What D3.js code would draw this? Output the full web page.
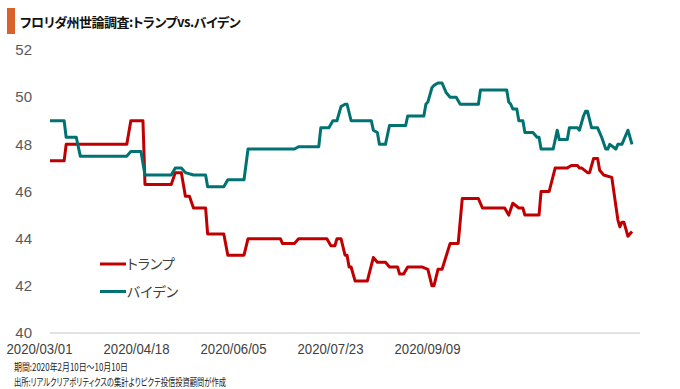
<!DOCTYPE html>
<html>
<head>
<meta charset="utf-8">
<script src="https://cdn.jsdelivr.net/npm/d3@7/dist/d3.min.js"></script>
<style>
  body { margin: 0; background: #fff; }
  svg { display: block; font-family: "Liberation Sans", Arial, sans-serif; }
  .jp { font-family: "Noto Sans CJK JP", sans-serif; font-feature-settings: "palt"; }
  .tick text { font-family: "Liberation Sans", Arial, sans-serif; }
</style>
</head>
<body>
<script>
// chart data (x = poll update index, 0 .. 288)
const xLabels = ['2020/03/01', '2020/04/18', '2020/06/05', '2020/07/23', '2020/09/09'];
const xLabelIdx = [0, 48, 96, 144, 192];
const yTicks = [40, 42, 44, 46, 48, 50, 52];
const seriesNames = ['トランプ', 'バイデン'];

const trump = [
  [0, 47.3], [7, 47.3], [8, 48.0], [38, 48.0], [40, 49.0], [46, 49.0], [47, 46.3],
  [60, 46.3], [62, 46.8], [65, 46.8], [67, 45.8], [69, 45.8], [71, 45.3], [77, 45.3],
  [78, 44.2], [86, 44.2], [88, 43.3], [96, 43.3], [98, 44.0], [114, 44.0], [115, 43.8],
  [121, 43.8], [123, 44.0], [137, 44.0], [139, 43.7], [141, 43.7], [142, 44.0], [144, 44.0],
  [146, 43.3], [147, 43.3], [148, 42.8], [149, 42.8], [151, 42.2], [157, 42.2], [160, 43.2],
  [162, 43.0], [166, 43.0], [168, 42.8], [172, 42.8], [173, 42.5], [175, 42.5], [177, 42.8],
  [184, 42.8], [187, 42.7], [189, 42.0], [190, 42.0], [192, 42.7], [194, 42.7], [198, 43.8],
  [202, 43.8], [204, 45.7], [212, 45.7], [214, 45.3], [225, 45.3], [227, 45.0], [229, 45.5],
  [232, 45.3], [234, 45.3], [235, 45.0], [242, 45.0], [243, 46.0], [247, 46.0], [250, 47.0],
  [256, 47.0], [258, 47.1], [261, 47.1], [262, 47.0], [263, 47.0], [266, 46.8], [267, 46.8],
  [269, 47.4], [271, 47.4], [272, 46.9], [274, 46.7], [278, 46.6], [281, 44.8], [282, 44.5],
  [283, 44.7], [284, 44.7], [286, 44.1], [288, 44.3],
];

const biden = [
  [0, 49.0], [7, 49.0], [8, 48.3], [13, 48.3], [15, 47.5], [38, 47.5], [40, 47.7], [45, 47.7],
  [47, 46.7], [60, 46.7], [62, 47.0], [65, 47.0], [67, 46.8], [71, 46.7], [77, 46.7], [78, 46.2],
  [86, 46.2], [88, 46.5], [96, 46.5], [98, 47.8], [121, 47.8], [123, 47.9], [133, 47.9],
  [134, 48.7], [138, 48.7], [140, 49.0], [142, 49.0], [144, 49.6], [146, 49.7], [147, 49.7],
  [149, 49.0], [159, 49.0], [160, 48.6], [162, 48.5], [163, 48.0], [166, 48.0], [168, 48.8],
  [176, 48.8], [177, 49.2], [185, 49.2], [186, 49.7], [187, 49.8], [189, 50.4], [190, 50.5],
  [192, 50.6], [194, 50.6], [196, 50.2], [198, 50.0], [201, 50.0], [203, 49.7], [212, 49.7],
  [213, 50.3], [226, 50.3], [227, 49.8], [228, 49.7], [229, 49.5], [231, 49.5], [232, 49.0],
  [234, 49.0], [235, 48.5], [239, 48.5], [241, 48.3], [242, 48.3], [243, 47.8], [249, 47.8],
  [251, 48.6], [252, 48.2], [256, 48.2], [257, 48.7], [261, 48.7], [262, 48.6], [264, 49.2],
  [265, 49.4], [266, 49.4], [268, 48.7], [271, 48.7], [272, 48.5], [273, 48.3], [275, 47.8],
  [276, 47.8], [277, 48.0], [280, 47.8], [281, 48.0], [283, 48.0], [286, 48.6], [288, 48.0],
];

const colors = ['#C00000', '#007272'];
const width = 680;
const height = 389;

const svg = d3.select('body').append('svg')
  .attr('width', width)
  .attr('height', height);

// title with orange marker
svg.append('rect')
  .attr('x', 7).attr('y', 8)
  .attr('width', 8).attr('height', 26)
  .attr('fill', '#D9622B');
svg.append('text')
  .attr('class', 'jp')
  .attr('x', 20).attr('y', 27)
  .attr('font-size', 13)
  .attr('font-weight', 'bold')
  .attr('letter-spacing', -0.5)
  .attr('fill', '#111')
  .text('フロリダ州世論調査:トランプvs.バイデン');

// scales
const x = d3.scaleLinear().domain([0, 288]).range([50, 632]);
const y = d3.scaleLinear().domain([40, 52]).range([333, 50]);

// baseline gridline (only the bottom one is drawn)
svg.append('line')
  .attr('x1', 50).attr('x2', 640)
  .attr('y1', y(40)).attr('y2', y(40))
  .attr('stroke', '#D9D9D9')
  .attr('stroke-width', 1.5);

// y axis
const yAxis = d3.axisLeft(y).tickValues(yTicks).tickSize(0).tickPadding(18);
svg.append('g')
  .attr('transform', 'translate(50,0)')
  .call(yAxis)
  .call(g => g.select('.domain').remove())
  .selectAll('text')
  .attr('font-size', 15)
  .attr('fill', '#595959');

// x axis: labels every 48 updates, narrow font in the original so squeeze a little
const xAxis = d3.axisBottom(x).tickValues(xLabelIdx)
  .tickFormat((d, i) => xLabels[i]).tickSize(0).tickPadding(10);
svg.append('g')
  .attr('transform', `translate(0,${y(40)})`)
  .call(xAxis)
  .call(g => g.select('.domain').remove())
  .selectAll('text')
  .attr('dx', -11)
  .attr('font-size', 15.5)
  .attr('textLength', 66)
  .attr('lengthAdjust', 'spacingAndGlyphs')
  .attr('fill', '#404040');

// lines
const line = d3.line().x(d => x(d[0])).y(d => y(d[1]));
[trump, biden].forEach((s, i) => {
  svg.append('path')
    .datum(s)
    .attr('fill', 'none')
    .attr('stroke', colors[i])
    .attr('stroke-width', 3)
    .attr('stroke-linejoin', 'round')
    .attr('d', line);
});

// legend
const legend = svg.append('g').attr('transform', 'translate(100,264)');
seriesNames.forEach((name, i) => {
  const row = legend.append('g').attr('transform', `translate(0,${i * 27.5})`);
  row.append('line')
    .attr('x1', 0).attr('x2', 26)
    .attr('stroke', colors[i])
    .attr('stroke-width', 3);
  row.append('text')
    .attr('class', 'jp')
    .attr('x', 27).attr('y', 5)
    .attr('font-size', 14)
    .attr('fill', '#404040')
    .text(name);
});

// footnotes (narrow Japanese UI font in the original, so squeeze to its width)
const notes = ['期間:2020年2月10日〜10月10日', '出所:リアルクリアポリティクスの集計よりピクテ投信投資顧問が作成'];
const noteWidths = [114, 212];
notes.forEach((t, i) => {
  svg.append('text')
    .attr('class', 'jp')
    .attr('x', 14).attr('y', 371 + i * 15)
    .attr('font-size', 10.5)
    .attr('textLength', noteWidths[i])
    .attr('lengthAdjust', 'spacingAndGlyphs')
    .attr('fill', '#222')
    .text(t);
});
</script>
</body>
</html>
